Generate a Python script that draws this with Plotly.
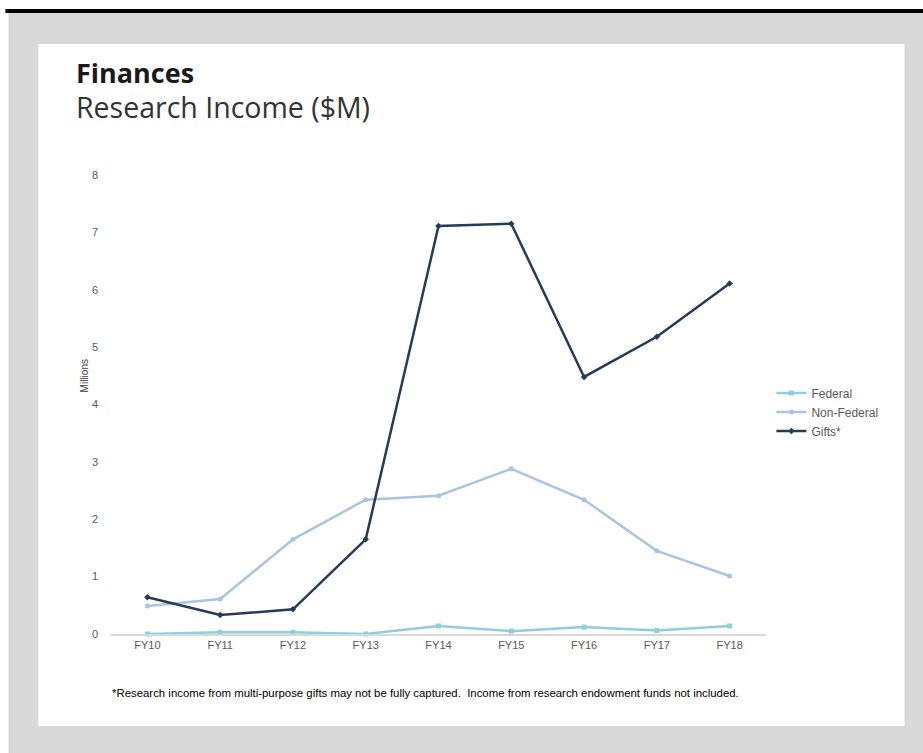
import plotly.graph_objects as go

categories = ["FY10", "FY11", "FY12", "FY13", "FY14", "FY15", "FY16", "FY17", "FY18"]
federal = [0.0, 0.03, 0.03, 0.0, 0.14, 0.05, 0.12, 0.06, 0.14]
non_federal = [0.49, 0.61, 1.65, 2.34, 2.41, 2.88, 2.34, 1.45, 1.01]
gifts = [0.64, 0.33, 0.43, 1.65, 7.11, 7.15, 4.48, 5.18, 6.11]
y_ticks = [0, 1, 2, 3, 4, 5, 6, 7, 8]

W, H = 923, 753
L, R = 110.6, 765.6      # plot area x pixels
T, B = 175.0, 634.0      # plot area y pixels (8 at top, 0 at bottom)
PW, PH = R - L, B - T

def px(x):
    return (x - L) / PW

def py(y):
    return (B - y) / PH

fig = go.Figure()
fig.add_trace(go.Scatter(x=categories, y=federal, name="Federal", mode="lines+markers",
                         line=dict(color="#8fcfdd", width=2.5),
                         marker=dict(symbol="square", size=5, color="#8fcfdd"), cliponaxis=False))
fig.add_trace(go.Scatter(x=categories, y=non_federal, name="Non-Federal", mode="lines+markers",
                         line=dict(color="#aac4e1", width=2.5),
                         marker=dict(symbol="circle", size=5, color="#aac4e1"), cliponaxis=False))
fig.add_trace(go.Scatter(x=categories, y=gifts, name="Gifts*", mode="lines+markers",
                         line=dict(color="#253b58", width=2.5),
                         marker=dict(symbol="diamond", size=5, color="#253b58"), cliponaxis=False))

shapes = [
    dict(type="rect", xref="paper", yref="paper", x0=px(8), x1=px(923), y0=py(753), y1=py(13),
         fillcolor="#d9d9d9", line=dict(width=0), layer="below"),
    dict(type="rect", xref="paper", yref="paper", x0=px(5), x1=px(923), y0=py(13), y1=py(9),
         fillcolor="#000000", line=dict(width=0), layer="below"),
    dict(type="rect", xref="paper", yref="paper", x0=px(38), x1=px(904), y0=py(726), y1=py(44),
         fillcolor="#ffffff", line=dict(width=0), layer="below"),
]

annotations = [
    dict(text="<b>Finances</b>", xref="paper", yref="paper", x=px(74), y=py(73),
         xanchor="left", yanchor="middle", showarrow=False,
         font=dict(family="Open Sans, Arial", size=27, color="#1a1a1a")),
    dict(text="Research Income ($M)", xref="paper", yref="paper", x=px(74), y=py(107),
         xanchor="left", yanchor="middle", showarrow=False,
         font=dict(family="Open Sans, Arial", size=28.5, color="#333333")),
    dict(text="*Research income from multi-purpose gifts may not be fully captured.  Income from research endowment funds not included.",
         xref="paper", yref="paper", x=px(425), y=py(693), xanchor="center", yanchor="middle",
         showarrow=False, font=dict(family="Arial, Liberation Sans", size=11.4, color="#000000")),
    dict(text="Millions", xref="paper", yref="paper", x=px(84), y=py(376), textangle=-90,
         xanchor="center", yanchor="middle", showarrow=False,
         font=dict(family="Arial, Liberation Sans", size=10, color="#404040")),
]

fig.update_layout(
    width=W, height=H,
    margin=dict(l=L, r=W - R, t=T, b=H - B, pad=0),
    paper_bgcolor="#ffffff", plot_bgcolor="#ffffff",
    shapes=shapes, annotations=annotations,
    showlegend=True,
    legend=dict(x=px(771), y=py(412), xanchor="left", yanchor="middle",
                font=dict(family="Arial, Liberation Sans", size=12, color="#595959"),
                bgcolor="rgba(0,0,0,0)", itemwidth=30, tracegroupgap=0),
    xaxis=dict(type="category", range=[-0.5, 8.5], showgrid=False, zeroline=False,
               showline=True, linecolor="#d9d9d9", linewidth=1.5, ticks="",
               tickfont=dict(family="Arial, Liberation Sans", size=11, color="#595959")),
    yaxis=dict(range=[0, 8], tickvals=y_ticks, showgrid=False, zeroline=False, showline=False,
               ticks="", ticklabelstandoff=12,
               tickfont=dict(family="Arial, Liberation Sans", size=11, color="#595959")),
)

fig.write_html("out.html", config={"displayModeBar": False},
               post_script="document.body.style.margin='0';document.body.style.overflow='hidden';")
